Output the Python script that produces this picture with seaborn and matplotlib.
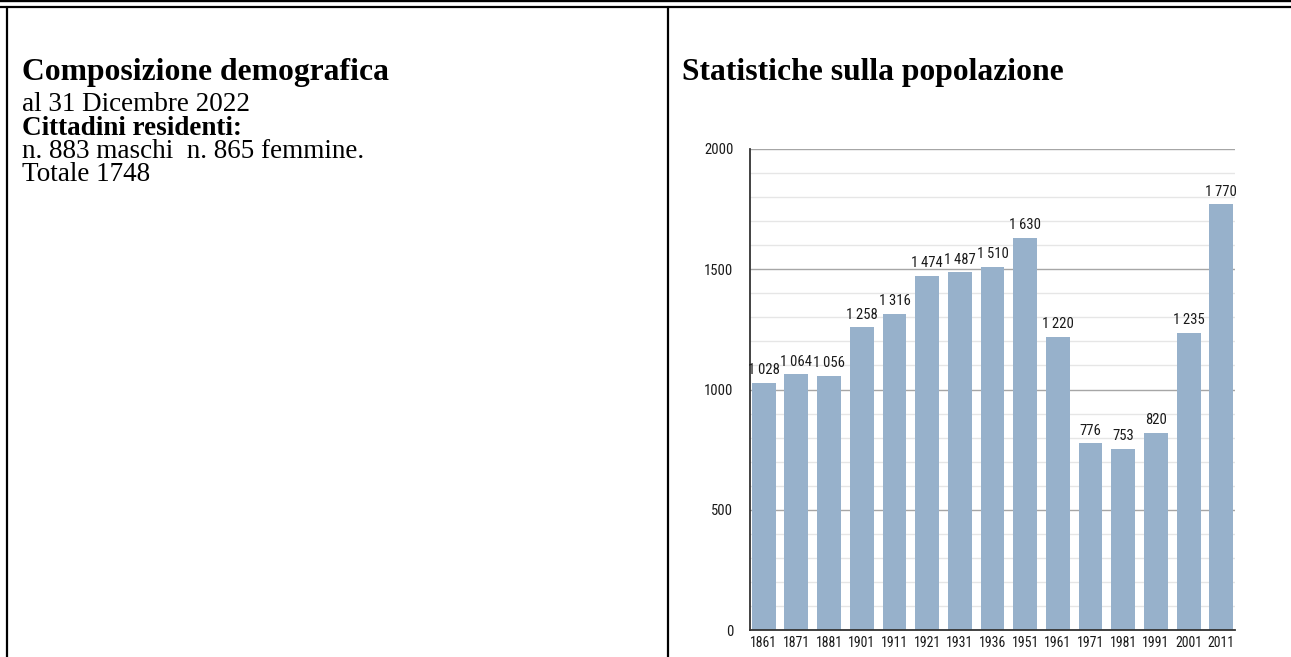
import matplotlib
matplotlib.use("Agg")
import matplotlib.pyplot as plt
from matplotlib import font_manager
from matplotlib.lines import Line2D
from matplotlib.ticker import MultipleLocator
import seaborn as sns

# data
years = ["1861", "1871", "1881", "1901", "1911", "1921", "1931", "1936",
         "1951", "1961", "1971", "1981", "1991", "2001", "2011"]
population = [1028, 1064, 1056, 1258, 1316, 1474, 1487, 1510,
              1630, 1220, 776, 753, 820, 1235, 1770]

left_title = "Composizione demografica"
left_date = "al 31 Dicembre 2022"
left_bold = "Cittadini residenti:"
left_counts = "n. 883 maschi  n. 865 femmine."
left_total = "Totale 1748"
right_title = "Statistiche sulla popolazione"

sns.set_style("white")

# pick the narrowest sans that is available for the chart labels
installed = {f.name for f in font_manager.fontManager.ttflist}
narrow = "Roboto"
for cand in ["Liberation Sans Narrow", "Arial Narrow", "Roboto Condensed"]:
    if cand in installed:
        narrow = cand
        break
plt.rcParams["font.family"] = [narrow, "DejaVu Sans"]

W, H = 1291, 657
fig = plt.figure(figsize=(W / 100, H / 100), dpi=100)


def fx(px):
    return px / W


def fy(py):
    return 1 - py / H


# page frame lines
fig.add_artist(Line2D([0, 1], [fy(1), fy(1)], transform=fig.transFigure, color="black", lw=1.7))
for xs, ys in [([0, W], [7, 7]), ([7, 7], [7, H]), ([668, 668], [7, H])]:
    fig.add_artist(Line2D([fx(x) for x in xs], [fy(y) for y in ys],
                          transform=fig.transFigure, color="black", lw=1.6))

serif = ["Liberation Serif", "DejaVu Serif"]
fig.text(fx(22), fy(80), left_title, family=serif, fontsize=22.8, fontweight="bold",
         va="baseline", color="black")
fig.text(fx(22), fy(111), left_date, family=serif, fontsize=19.5, va="baseline", color="black")
fig.text(fx(22), fy(135), left_bold, family=serif, fontsize=19.5, fontweight="bold",
         va="baseline", color="black")
fig.text(fx(22), fy(158), left_counts, family=serif, fontsize=19.5, va="baseline", color="black")
fig.text(fx(22), fy(181), left_total, family=serif, fontsize=19.5, va="baseline", color="black")
fig.text(fx(682), fy(80), right_title, family=serif, fontsize=22.8, fontweight="bold",
         va="baseline", color="black")

# bar chart
ax = fig.add_axes([fx(750), fy(630), fx(1235) - fx(750), (630 - 149) / H])
sns.barplot(x=years, y=population, color="#97b1cb", saturation=1, width=0.73,
            edgecolor="none", ax=ax)
ax.set_xlim(-0.42, 14.42)
ax.set_ylim(0, 2000)
ax.set_xlabel("")
ax.set_ylabel("")

ax.yaxis.set_major_locator(MultipleLocator(500))
ax.yaxis.set_minor_locator(MultipleLocator(100))
ax.set_axisbelow(True)
ax.grid(which="minor", axis="y", color="#e6e6e6", lw=1)
ax.grid(which="major", axis="y", color="#a6a6a6", lw=1)
ax.grid(axis="x", visible=False)

for side in ["top", "right"]:
    ax.spines[side].set_visible(False)
for side in ["left", "bottom"]:
    ax.spines[side].set_color("#333333")
    ax.spines[side].set_linewidth(1.3)

ax.tick_params(axis="y", which="major", length=4, width=1, color="#333333",
               pad=8, labelsize=10.5, labelcolor="#1a1a1a")
ax.tick_params(axis="y", which="minor", length=2, width=1, color="#333333")
ax.tick_params(axis="x", length=0, pad=4, labelsize=10, labelcolor="#1a1a1a")

labels = [f"{v:,}".replace(",", "\u2009") for v in population]
ax.bar_label(ax.containers[0], labels=labels, padding=4, fontsize=10.5, color="#1a1a1a")

fig.savefig("out.png", dpi=100)
